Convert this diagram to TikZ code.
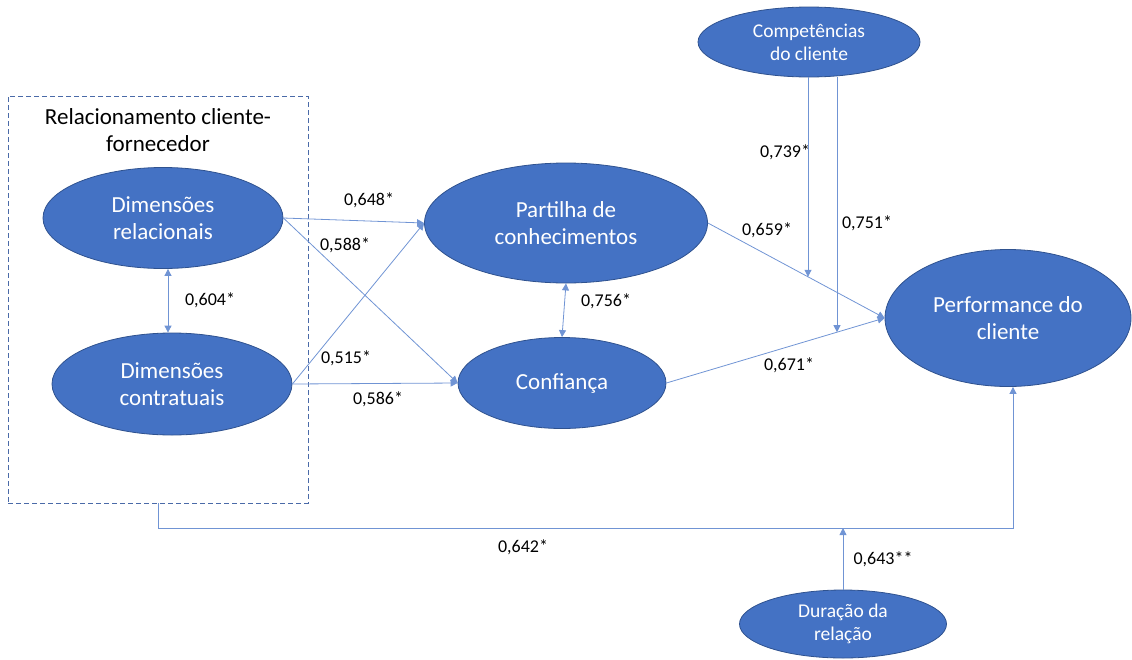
\documentclass[tikz,border=0pt]{standalone}
\usepackage{fontspec}
\setmainfont{Carlito}
\usetikzlibrary{arrows.meta,shapes.geometric,intersections}
\definecolor{efill}{HTML}{4472C4}
\definecolor{edraw}{HTML}{2F528F}
\definecolor{linec}{HTML}{7094D4}
\definecolor{boxc}{HTML}{4A6AA8}
\tikzset{
  latent/.style={ellipse, fill=efill, draw=edraw, line width=0.8pt, text=white, align=center, inner sep=0pt},
  bigtxt/.style={font=\fontsize{23}{27}\selectfont},
  smalltxt/.style={font=\fontsize{19.5}{23}\selectfont},
  coef/.style={font=\fontsize{18}{20}\selectfont, text=black, inner sep=1pt},
  arr/.style={draw=linec, line width=0.8pt, -{Triangle[length=7pt,width=7pt]}},
  darr/.style={draw=linec, line width=0.8pt, {Triangle[length=7pt,width=7pt]}-{Triangle[length=7pt,width=7pt]}},
  plain/.style={draw=linec, line width=0.8pt},
}
\begin{document}
\begin{tikzpicture}[x=1pt,y=-1pt]
\useasboundingbox (0,0) rectangle (1132,659);
% group box
\node[draw=boxc, dashed, dash pattern=on 5pt off 3pt, line width=0.8pt, minimum width=300pt, minimum height=407pt, inner sep=0pt] (grp) at (158,299.5) {};
\node[bigtxt, align=center, text=black, font=\fontsize{23}{27}\selectfont] (title) at (158,130) {Relacionamento cliente-\\fornecedor};
% latent variables
\node[latent, bigtxt, minimum width=240pt, minimum height=101pt] (dr) at (163,218) {Dimensões\\relacionais};
\node[latent, bigtxt, minimum width=240pt, minimum height=102pt] (dc) at (172,384) {Dimensões\\contratuais};
\node[latent, bigtxt, minimum width=283pt, minimum height=120pt] (pc) at (566,223) {Partilha de\\conhecimentos};
\node[latent, bigtxt, minimum width=208pt, minimum height=91pt] (cf) at (562,383) {Confiança};
\node[latent, bigtxt, minimum width=246pt, minimum height=137pt] (pf) at (1008,318) {Performance do\\cliente};
\node[latent, smalltxt, minimum width=222pt, minimum height=70pt] (cp) at (809,42) {Competências\\do cliente};
\node[latent, smalltxt, minimum width=207pt, minimum height=68pt] (du) at (843,624) {Duração da\\relação};
% paths
\draw[arr] (dr.east) -- (pc.west);
\draw[arr] (dr.east) -- (cf.west);
\draw[arr] (dc.east) -- (pc.west);
\draw[arr] (dc.east) -- (cf.west);
\draw[darr] (dr.south -| 168,0) -- (dc.north -| 168,0);
\draw[darr] (pc.south) -- (cf.north);
\draw[arr, name path=p1] (pc.east) -- (pf.west);
\draw[arr, name path=p2] (cf.east) -- (pf.west);
% moderator competencias
\path[name path=v1] ([xshift=-1pt]cp.south) -- ++(0,400);
\path[name path=v2] ([xshift=28pt]cp.south) -- ++(0,400);
\path[name intersections={of=v1 and p1, by=m1}];
\path[name intersections={of=v2 and p2, by=m2}];
\draw[arr] ([xshift=-1pt]cp.south) -- (m1);
\draw[arr] ([xshift=28pt]cp.south) -- (m2);
% bottom path
\coordinate (b1) at (158,528);
\coordinate (b2) at (1013,528);
\draw[arr] (grp.south) -- (b1) -- (b2) -- ([xshift=5pt]pf.south);
\draw[arr] (du.north) -- (du.north |- b1);
% coefficients
\node[coef] (c648) at (369,200) {0,648*};
\node[coef] (c588) at (345,245) {0,588*};
\node[coef] (c515) at (346,358) {0,515*};
\node[coef] (c586) at (378,399) {0,586*};
\node[coef] (c604) at (210,300) {0,604*};
\node[coef] (c756) at (606,301) {0,756*};
\node[coef] (c659) at (767,230) {0,659*};
\node[coef] (c739) at (785,152) {0,739*};
\node[coef] (c751) at (867,223) {0,751*};
\node[coef] (c671) at (789,365) {0,671*};
\node[coef] (c642) at (523,547) {0,642*};
\node[coef] (c643) at (883,559) {0,643**};
\end{tikzpicture}
\end{document}
